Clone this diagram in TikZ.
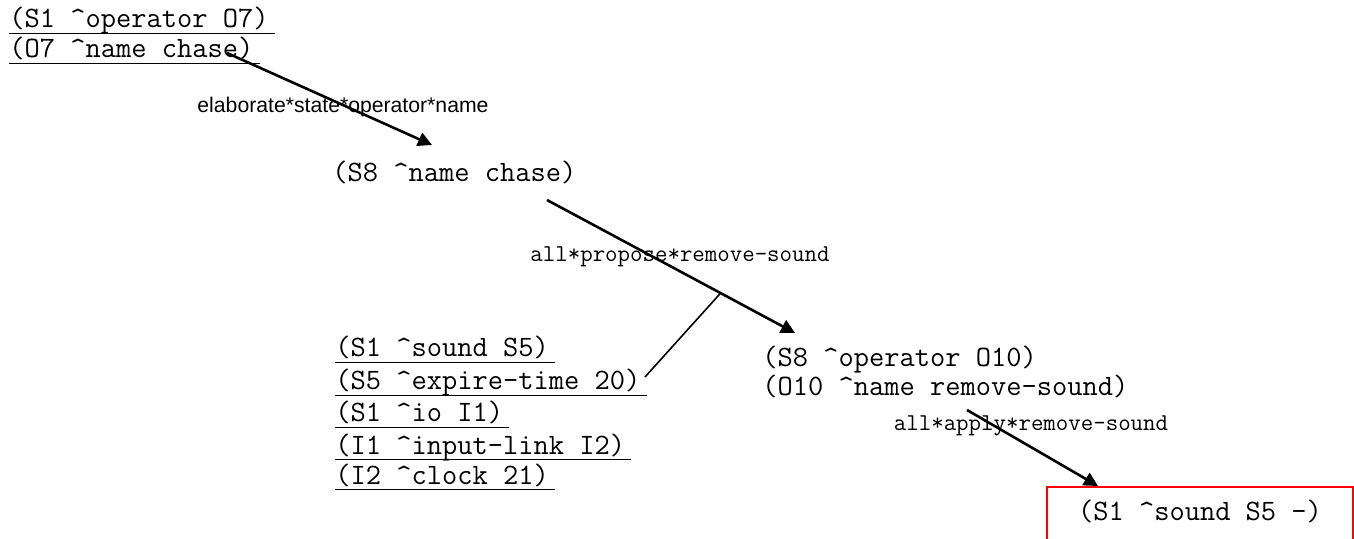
\documentclass[tikz,border=0pt]{standalone}
\usepackage{fontspec}
\setsansfont{Liberation Sans}
\usetikzlibrary{arrows.meta}
\newcommand{\crt}{\textasciicircum}

\begin{document}
\begin{tikzpicture}[
		x=0.5pt, y=-0.5pt,
		every node/.style={inner sep=0pt, anchor=base west, font=\ttfamily\fontsize{14.8}{14.8}\selectfont},
		wme/.style={text depth=2.5pt},
		rule/.style={anchor=base, font=\ttfamily\fontsize{12.1}{12.1}\selectfont},
		ulin/.style={line width=0.7pt},
		fire/.style={line width=1.3pt, -{Triangle[length=7pt, width=7pt]}}
	]
  \clip (0,0) rectangle (1354,539);
  \node (op7) [wme] at (9,28) {(S1 \crt operator O7)};
  \node (nm7) [wme] at (9,58) {(O7 \crt name chase)};
  \node (s8_nm) at (332,182) {(S8 \crt name chase)};
  \node (snd) [wme] at (335,357) {(S1 \crt sound S5)};
  \node (exp) [wme] at (335,390) {(S5 \crt expire-time 20)};
  \node (io) [wme] at (335,422) {(S1 \crt io I1)};
  \node (inl) [wme] at (335,454) {(I1 \crt input-link I2)};
  \node (clk) [wme] at (335,484) {(I2 \crt clock 21)};
  \node (s8_op) at (762,367) {(S8 \crt operator O10)};
  \node (o10_nm) at (762,396) {(O10 \crt name remove-sound)};
  \node (result) [draw=red, line width=1pt, inner xsep=11pt, inner ysep=7.5pt,
    text height=9pt, text depth=40pt, minimum width=153pt] at (1046,520) {(S1 \crt sound S5 -)};
  \foreach \n in {op7, nm7, snd, exp, io, inl, clk}
    \draw [ulin] (\n.south west) -- ([xshift=3pt]\n.south east);
  \node (elab) [anchor=base, font=\sffamily\fontsize{10.6}{10.6}\selectfont] at (343,113) {elaborate*state*operator*name};
  \node (prop) [rule] at (680,262) {all*propose*remove-sound};
  \node (apply) [rule] at (1031,430) {all*apply*remove-sound};
  \coordinate (a1s) at (227,53);
  \coordinate (a1e) at (432,145);
  \coordinate (a2s) at (547,200);
  \coordinate (a2e) at (795,333);
  \coordinate (a3s) at (967,410);
  \coordinate (a3e) at ([xshift=26pt]result.north west);
  \coordinate (br) at (645,377);
  \draw [fire] (a1s) -- (a1e);
  \draw [fire] (a2s) -- coordinate[pos=0.7] (fork) (a2e);
  \draw [line width=0.8pt] (fork) -- (br);
  \draw [fire] (a3s) -- (a3e);
\end{tikzpicture}
\end{document}
